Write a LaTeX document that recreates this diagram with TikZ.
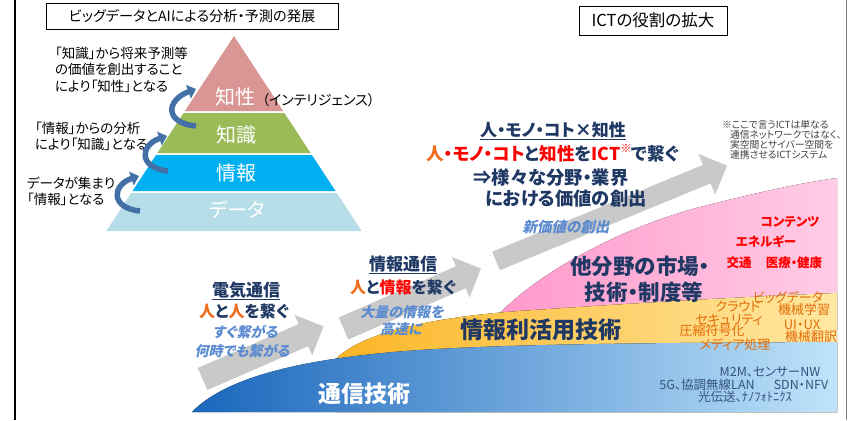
\documentclass[tikz,border=0pt]{standalone}
\usepackage{fontspec}
\setmainfont{Noto Sans CJK JP}[RawFeature=+palt]
\newfontfamily\jpslant{Noto Sans CJK JP}[FakeSlant=0.22,RawFeature=+palt]
\usetikzlibrary{arrows.meta}
\definecolor{navy}{HTML}{1F3864}
\definecolor{orj}{HTML}{F26C1E}
\definecolor{rd}{HTML}{FF0000}
\definecolor{slblue}{HTML}{5A8AD0}
\definecolor{arrowgray}{HTML}{C9C9C9}
\definecolor{slate}{HTML}{35537F}
\definecolor{orgtext}{HTML}{E36C09}
\definecolor{lvA}{HTML}{DA9694}
\definecolor{lvB}{HTML}{9BBB59}
\definecolor{lvC}{HTML}{00B0F0}
\definecolor{lvD}{HTML}{B7DEE8}
\definecolor{carrow}{HTML}{4470A8}
\definecolor{blueL}{HTML}{1A66BC}
\definecolor{blueR}{HTML}{BFE3FA}
\definecolor{yelL}{HTML}{FBB526}
\definecolor{yelR}{HTML}{FFE8A3}
\definecolor{pinkL}{HTML}{FF99CC}
\definecolor{pinkR}{HTML}{FFCCE5}
\definecolor{notegray}{HTML}{404040}
\newcommand\fsz[2]{\fontsize{#1}{#2}\selectfont}
\tikzset{
  pics/bigarrow/.style 2 args={code={
    \fill[arrowgray] (0,-#2) -- (#1-22,-#2) -- (#1-22,-22) -- (#1,0) -- (#1-22,22) -- (#1-22,#2) -- (0,#2) -- cycle;}},
  every node/.style={inner sep=0pt, outer sep=0pt},
  curvarrow/.style={draw=carrow, line width=5.5pt, -{Triangle[length=8pt,width=14pt]}},
  titlebox/.style={draw=black, line width=0.8pt, fill=white},
  pyrtext/.style={text=white, font=\fsz{20}{20}},
  leftnote/.style={anchor=west, align=left, font=\fsz{13.5}{16.5}},
  slanttext/.style={text=slblue, font=\jpslant\bfseries\fsz{14}{14}},
  navybold/.style={text=navy, font=\bfseries\fsz{17}{17}},
  bigband/.style={text=navy, font=\bfseries\fsz{22}{22}},
  redsmall/.style={text=rd, font=\bfseries\fsz{12.5}{12.5}},
  orsmall/.style={text=orgtext, font=\fsz{13}{13}},
  slatesmall/.style={text=slate, font=\fsz{12.5}{12.5}},
  notetext/.style={anchor=west, text=notegray, font=\fsz{9.8}{9.8}}
}
\begin{document}
\begin{tikzpicture}[x=1pt,y=-1pt]
\useasboundingbox (0,0) rectangle (848,420);
\fill[white] (0,0) rectangle (848,420);
% frame lines
\draw[black, line width=2pt] (14.5,0) -- (14.5,420);
\draw[gray, line width=0.8pt] (846,0) -- (846,420);

% ===== pyramid =====
\fill[lvA] (234,36) -- (283.1,111) -- (184.9,111) -- cycle;
\fill[lvB] (183.6,113) -- (284.4,113) -- (310.6,153) -- (157.4,153) -- cycle;
\fill[lvC] (156.1,155) -- (311.9,155) -- (335.5,191) -- (132.5,191) -- cycle;
\fill[lvD] (131.2,193) -- (336.8,193) -- (361.7,231) -- (106.3,231) -- cycle;
\node[pyrtext] (pA) at (235,97) {知性};
\node[font=\fsz{14}{14}, anchor=west] (pAx) at (262,100) {（インテリジェンス）};
\node[pyrtext] (pB) at (236,135) {知識};
\node[pyrtext] (pC) at (236,173) {情報};
\node[pyrtext] (pD) at (237,210) {データ};

\node[titlebox, minimum width=292pt, minimum height=26pt, font=\fsz{14.2}{14.2}] (ttl) at (192,16) {ビッグデータとAIによる分析・予測の発展};
\node[titlebox, minimum width=148pt, minimum height=29pt, font=\fsz{16.5}{16.5}] (ict) at (653,20.5) {ICTの役割の拡大};

\node[leftnote] (ln1) at (55,69.5) {「知識」から将来予測等\\の価値を創出すること\\により「知性」となる};
\node[leftnote] (ln2) at (35,136.5) {「情報」からの分析\\により「知識」となる};
\node[leftnote] (ln3) at (27,191.5) {データが集まり\\「情報」となる};

\coordinate (ca1s) at (196,126);
\coordinate (ca1e) at (196,89);
\coordinate (ca2s) at (168,171);
\coordinate (ca2e) at (167,136);
\coordinate (ca3s) at (140,211);
\coordinate (ca3e) at (139,176);
\draw[curvarrow] (ca1s) .. controls (164,123) and (166,100) .. (ca1e);
\draw[curvarrow] (ca2s) .. controls (138,168) and (140,145) .. (ca2e);
\draw[curvarrow] (ca3s) .. controls (110,208) and (112,185) .. (ca3e);

% ===== bands =====
\fill[left color=pinkL, right color=pinkR] (500,313) .. controls (540,272) and (620,228) .. (700,207) .. controls (760,192) and (800,183) .. (837,178) -- (837,330) -- (505,330) -- cycle;
\fill[left color=yelL, right color=yelR] (336,359) .. controls (358,336) and (420,318) .. (520,311) .. controls (650,302) and (760,296) .. (837,293) -- (837,412) -- (336,412) -- cycle;
\fill[left color=blueL, right color=blueR] (192,412) .. controls (225,378) and (300,358) .. (420,350) .. controls (500,345) and (600,343) .. (837,342) -- (837,412) -- cycle;

% ===== gray arrows =====
\pic[rotate=23.5] at (202.5,379) {bigarrow={132}{12}};
\pic[rotate=23.6] at (343.5,328.5) {bigarrow={150}{12}};
\pic[rotate=22.4] at (496,261) {bigarrow={250}{10}};

% ===== texts =====
\node[navybold] (e1) at (246,291) {\underline{電気通信}};
\node[navybold, font=\bfseries\fsz{16}{16}] (e2) at (244,311) {{\color{orj}人}と{\color{orj}人}を繋ぐ};
\node[slanttext] (e3) at (245,332) {すぐ繋がる};
\node[slanttext] (e4) at (242,351) {何時でも繋がる};

\node[navybold] (i1) at (403,265) {\underline{情報通信}};
\node[navybold, font=\bfseries\fsz{16}{16}] (i2) at (403,287) {{\color{orj}人}と{\color{rd}情報}を繋ぐ};
\node[slanttext] (i3) at (402,312) {大量の情報を};
\node[slanttext] (i4) at (401,329) {高速に};

\node[text=white, font=\bfseries\fsz{23}{23}] (b1) at (364,394) {通信技術};
\node[bigband, font=\bfseries\fsz{23}{23}] (b2) at (541,330) {情報利活用技術};
\node[bigband, font=\bfseries\fsz{21.5}{21.5}] (b3) at (640,266) {他分野の市場・};
\node[bigband, font=\bfseries\fsz{21.5}{21.5}] (b4) at (644,292) {技術・制度等};
\node[slanttext, font=\jpslant\bfseries\fsz{14.5}{14.5}] (nv) at (566,227) {新価値の創出};

\node[navybold] (t1) at (553,131) {\underline{人・モノ・コト×知性}};
\node[navybold, font=\bfseries\fsz{17.6}{17.6}] (t2) at (553,153) {{\color{orj}人}{\color{rd}・モノ・コト}と{\color{rd}知性}を{\color{rd}ICT\raisebox{0.45em}{\bfseries\fsz{11}{11}※}}で繋ぐ};
\node[navybold, font=\bfseries\fsz{18.3}{18.3}] (t3) at (551,178) {⇒様々な分野・業界};
\node[navybold, font=\bfseries\fsz{18.3}{18.3}] (t4) at (566,199) {における価値の創出};

\node[notetext] (nt1) at (722,125) {※ここで言うICTは単なる};
\node[notetext] (nt2) at (730,135) {通信ネットワークではなく、};
\node[notetext] (nt3) at (730,145) {実空間とサイバー空間を};
\node[notetext] (nt4) at (730,155) {連携させるICTシステム};

\node[redsmall] (r1) at (790,222) {コンテンツ};
\node[redsmall] (r2) at (766,242) {エネルギー};
\node[redsmall] (r3) at (739,263) {交通};
\node[redsmall] (r4) at (794,263) {医療・健康};

\node[orsmall] (o1) at (788,297) {ビッグデータ};
\node[orsmall] (o2) at (738,307) {クラウド};
\node[orsmall] (o3) at (804,310) {機械学習};
\node[orsmall] (o4) at (729,320) {セキュリティ};
\node[orsmall] (o5) at (802,325) {UI・UX};
\node[orsmall] (o6) at (712,331) {圧縮符号化};
\node[orsmall] (o7) at (811,337) {機械翻訳};
\node[orsmall] (o8) at (735,344) {メディア処理};

\node[slatesmall] (s1) at (770,372) {M2M、センサーNW};
\node[slatesmall] (s2) at (707,385) {5G、協調無線LAN};
\node[slatesmall] (s3) at (801,385) {SDN・NFV};
\node[slatesmall] (s4) at (745,397) {光伝送、ﾅﾉﾌｫﾄﾆｸｽ};
\end{tikzpicture}
\end{document}
